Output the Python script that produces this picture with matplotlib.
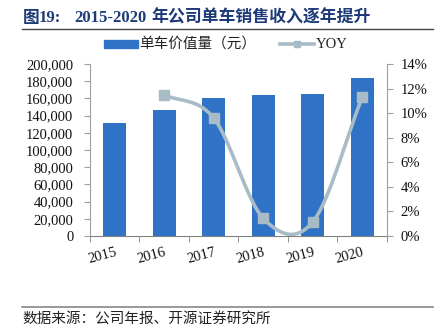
import numpy as np
import matplotlib
matplotlib.use("Agg")
import matplotlib.pyplot as plt
from matplotlib.lines import Line2D
from matplotlib.patches import Rectangle

years = ["2015", "2016", "2017", "2018", "2019", "2020"]
unit_value = [132000, 147000, 161000, 163500, 165500, 184000]
yoy_years = ["2016", "2017", "2018", "2019", "2020"]
yoy = [11.5, 9.6, 1.45, 1.15, 11.3]

BAR = "#3073C6"
LINE = "#A8BCC8"
TITLE = "#1C3A78"
serif = ["Liberation Serif", "Noto Sans CJK SC"]
cjk = ["Noto Sans CJK SC", "DejaVu Sans"]
W, H = 439, 332


def smooth(x, y, n=30):
    # Excel-style smoothed line (Catmull-Rom through the points)
    x = np.asarray(x, float)
    y = np.asarray(y, float)
    px = np.concatenate([[2 * x[0] - x[1]], x, [2 * x[-1] - x[-2]]])
    py = np.concatenate([[2 * y[0] - y[1]], y, [2 * y[-1] - y[-2]]])
    xs, ys = [], []
    t = np.linspace(0, 1, n)
    for i in range(1, len(px) - 2):
        for p, out in ((px, xs), (py, ys)):
            p0, p1, p2, p3 = p[i - 1], p[i], p[i + 1], p[i + 2]
            out.extend(0.5 * ((2 * p1) + (-p0 + p2) * t
                              + (2 * p0 - 5 * p1 + 4 * p2 - p3) * t ** 2
                              + (-p0 + 3 * p1 - 3 * p2 + p3) * t ** 3))
    return xs, ys


def fx(px):
    return px / W


def fy(py):
    return 1 - py / H


fig = plt.figure(figsize=(4.39, 3.32), dpi=100)
ax = fig.add_axes([0.205, 0.289, 0.6765, 0.518])
x = np.arange(len(years))
ax.bar(x, unit_value, width=0.47, color=BAR, zorder=2)
ax.set_xlim(-0.5, len(years) - 0.5)
ax.set_ylim(0, 200000)
ax.set_yticks(np.arange(0, 200001, 20000))
ax.set_yticklabels([f"{v:,}" for v in range(0, 200001, 20000)],
                   family=serif, fontsize=10.5, color="#111111")
ax.set_xticks(x)
ax.set_xticklabels(years, rotation=15, family=serif, fontsize=10.5,
                   color="#111111", ha="right", va="top",
                   rotation_mode="anchor")
ax.set_xticks(np.arange(-0.5, len(years), 1), minor=True)
ax.tick_params(axis="x", which="major", length=0, pad=7)
ax.tick_params(axis="x", which="minor", length=4, color="#808080")
ax.tick_params(axis="y", length=4, color="#A0A0A0", pad=8)
for s in ("top", "right"):
    ax.spines[s].set_visible(False)
ax.spines["left"].set_color("#A0A0A0")
ax.spines["bottom"].set_color("#808080")

ax2 = ax.twinx()
xi = [years.index(y) for y in yoy_years]
sx, sy = smooth(xi, yoy)
ax2.plot(sx, sy, color=LINE, lw=2.6, zorder=3)
ax2.plot(xi, yoy, ls="none", marker="s", ms=7.5, color=LINE, zorder=4)
ax2.set_ylim(0, 14)
ax2.set_yticks(np.arange(0, 15, 2))
ax2.set_yticklabels([f"{v}%" for v in range(0, 15, 2)], family=serif,
                    fontsize=10.5, color="#111111")
ax2.tick_params(axis="y", length=4, color="#A0A0A0", pad=6)
for s in ("top", "left", "bottom"):
    ax2.spines[s].set_visible(False)
ax2.spines["right"].set_color("#A0A0A0")

# legend drawn by hand to match the spacing
ly = fy(44)
fig.add_artist(Rectangle((fx(104), fy(48)), fx(34), 8 / H, color=BAR))
fig.text(fx(139), ly, "单车价值量（元）", family=cjk, fontsize=10.5,
         color="#222222", va="center")
fig.add_artist(Line2D([fx(280), fx(314)], [ly, ly], color=LINE, lw=2.6))
fig.add_artist(Line2D([fx(297)], [ly], color=LINE, marker="s", ms=5,
                      ls="none"))
fig.text(fx(316), ly, "YOY", family=serif, fontsize=10.5,
         color="#222222", va="center")

ty = fy(17.5)
fig.text(fx(23), ty, "图", family=cjk, fontsize=12, weight="bold",
         color=TITLE, va="center")
fig.text(fx(39), ty, "19:", family=serif, fontsize=12, weight="bold",
         color=TITLE, va="center")
fig.text(fx(74), ty, "2015-2020", family=serif, fontsize=12,
         weight="bold", color=TITLE, va="center")
fig.text(fx(151), ty, "年公司单车销售收入逐年提升", family=cjk,
         fontsize=12.2, weight="bold", color=TITLE, va="center")
fig.add_artist(Line2D([fx(22), fx(433)], [fy(29), fy(29)], color="#444444",
                      lw=1))
fig.add_artist(Line2D([fx(22), fx(433)], [fy(307), fy(307)],
                      color="#888888", lw=1.2))
fig.text(fx(22), fy(320), "数据来源：公司年报、开源证券研究所", family=cjk,
         fontsize=10.5, color="#222222", va="center")

fig.savefig("out.png", dpi=100)
